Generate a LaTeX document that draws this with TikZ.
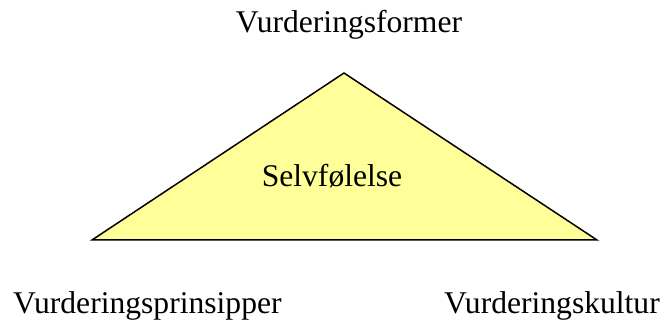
\documentclass[tikz,border=0pt]{standalone}
\usepackage{fontspec}
\setmainfont{Liberation Serif}
\definecolor{tri}{HTML}{FFFF99}
\begin{document}
\begin{tikzpicture}[x=1pt,y=-1pt,
  lbl/.style={inner sep=0pt, anchor=base, font=\fontsize{31.6}{36}\selectfont},
  trishape/.style={draw=black, line width=1.5pt, fill=tri, line join=miter}]
\useasboundingbox (0,0) rectangle (664,320);
\coordinate (A) at (344,73);
\coordinate (B) at (92,240);
\coordinate (C) at (597,240);
\draw[trishape] (A) -- (B) -- (C) -- cycle;
\node[lbl] (top) at (349,33) {Vurderingsformer};
\node[lbl, anchor=base west] (left) at (13,313) {Vurderingsprinsipper};
\node[lbl, anchor=base east] (right) at (660,313) {Vurderingskultur};
\node[lbl] (mid) at (332,187) {Selvfølelse};
\end{tikzpicture}
\end{document}
